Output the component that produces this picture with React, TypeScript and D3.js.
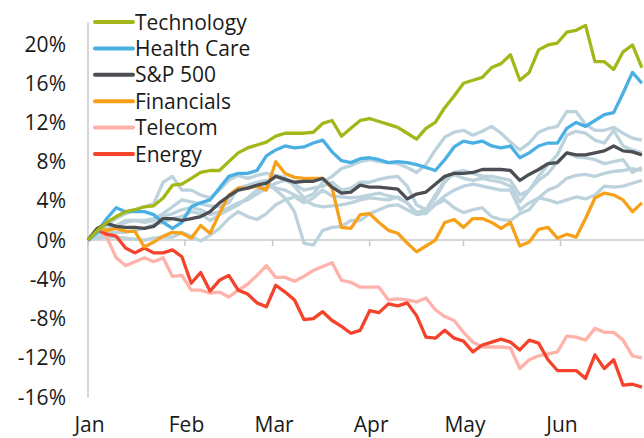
import React from "react";
import * as d3 from "d3";

const DAYS = [0,3,6,9,12,15,18,21,24,27,30,33,36,39,42,45,48,51,54,57,60,63,66,69,72,75,78,81,84,87,90,93,96,99,102,105,108,111,114,117,120,123,126,129,132,135,138,141,144,147,150,153,156,159,162,165,168,171,174,177];

const technology = [0,1.0,1.8,2.4,2.9,3.1,3.4,3.5,4.3,5.6, 5.7,6.3,6.9,7.1,7.1,8.0,8.9,9.4,9.7,10.0, 10.6,10.9,10.9,10.9,11.0,11.9,12.2,10.6,11.4,12.2, 12.4,12.1,11.8,11.5,10.9,10.3,11.4,12.0,13.5,14.7, 16.0,16.3,16.6,17.6,18.0,18.9,16.3,17.1,19.4,19.9, 20.1,21.2,21.4,21.9,18.2,18.2,17.4,19.2,19.9,17.6];
const healthCare = [0,0.8,2.2,3.3,2.9,2.9,2.9,2.6,1.8,1.2, 1.8,3.4,3.8,4.1,5.3,6.5,6.8,6.8,7.1,8.6, 9.2,9.6,9.4,9.5,9.9,10.2,9.0,8.1,7.9,8.3, 8.4,8.2,7.9,8.0,7.9,7.7,7.4,7.1,8.2,9.5, 10.1,9.9,10.1,9.6,9.4,9.6,8.4,8.9,9.6,9.9, 9.9,11.4,12.0,11.6,12.2,12.8,13.0,15.0,17.1,16.0];
const sp500 = [0,1.2,1.7,1.4,1.3,1.3,1.2,1.4,2.2,2.2, 2.0,2.2,2.4,2.9,3.8,4.5,5.1,5.3,5.6,5.8, 6.5,6.2,5.9,6.0,6.0,6.3,5.4,4.8,4.9,5.6, 5.4,5.4,5.3,5.2,4.2,4.7,4.9,5.7,6.5,6.8, 6.8,6.9,7.2,7.2,7.2,7.1,6.1,6.7,7.2,7.8, 7.9,8.9,8.7,8.7,8.9,9.1,9.6,9.1,9.0,8.7];
const financials = [0,1.2,1.0,1.2,0.9,0.9,-0.7,-0.2,0.4,0.8, 0.7,0.2,1.5,0.7,2.7,4.6,5.3,5.3,5.5,5.1, 8.0,6.8,6.4,6.3,6.3,6.3,5.3,1.3,1.2,2.6, 2.7,1.8,1.0,0.7,-0.3,-1.2,-0.6,0.0,1.8,2.1, 1.3,2.2,2.2,1.8,1.2,1.8,-0.6,-0.2,1.1,1.3, 0.2,0.6,0.3,2.2,4.3,4.8,4.6,4.1,2.9,3.8];
const telecom = [0,1.2,0.3,-1.8,-2.6,-2.2,-1.8,-2.2,-1.8,-3.7, -3.6,-5.1,-5.1,-5.4,-5.3,-5.8,-5.1,-4.5,-3.6,-2.6, -3.8,-3.8,-4.2,-3.7,-3.1,-2.7,-2.3,-4.1,-4.3,-4.8, -4.8,-4.8,-6.1,-6.0,-6.1,-6.3,-5.9,-7.1,-7.8,-8.2, -9.4,-10.4,-10.9,-10.9,-10.9,-11.0,-13.1,-12.2,-11.8,-11.6, -11.4,-9.8,-9.9,-10.2,-9.0,-9.4,-9.4,-10.2,-11.8,-12.0];
const energy = [0,1.0,0.6,0.4,-0.8,-1.3,-0.8,-1.3,-1.3,-1.0, -1.7,-4.4,-3.3,-5.2,-4.1,-3.6,-5.1,-5.5,-6.4,-6.8, -4.6,-5.3,-6.1,-8.1,-8.0,-7.3,-8.2,-8.8,-9.5,-9.2, -7.2,-7.4,-6.5,-6.7,-6.4,-7.7,-9.9,-10.0,-9.2,-10.0, -10.3,-11.4,-10.7,-10.4,-10.1,-10.4,-11.2,-10.2,-10.5,-12.2, -13.3,-13.3,-13.3,-14.1,-11.7,-13.1,-12.2,-14.8,-14.7,-15.0];

const otherA = [0,0.8,1.6,2.2,2.7,3.1,3.4,3.7,5.9,6.5, 5.1,5.1,4.6,4.3,5.1,6.1,6.6,6.3,6.6,6.8, 6.6,6.4,5.5,4.3,4.7,5.9,6.5,7.3,7.6,8.0, 8.2,8.0,7.9,7.8,7.4,6.9,7.7,9.2,10.5,11.0, 11.2,10.7,11.1,11.6,10.9,10.0,9.2,9.9,11.0,11.4, 11.6,13.1,13.1,11.8,11.2,11.2,11.5,10.9,10.4,10.2];
const otherB = [0,0.4,1.0,1.4,1.8,2.0,2.0,2.2,2.7,3.4, 4.1,3.9,3.7,3.5,3.4,3.8,5.3,5.6,5.9,6.1, 5.1,4.3,2.9,-0.3,-0.5,1.0,1.3,1.4,2.0,2.0, 2.7,3.1,3.5,3.6,3.1,2.6,2.8,3.6,4.1,3.3, 2.8,3.1,3.3,2.4,2.1,2.0,2.7,3.1,4.3,4.1, 3.8,4.1,4.4,4.2,4.6,5.5,5.4,5.5,5.8,6.1];
const otherC = [0,0.2,0.3,0.3,0.2,0.1,0,0.2,0.3,0.3, 0.8,0.4,-0.1,0.5,1.2,2.2,2.9,2.4,2.1,2.7, 3.6,4.1,4.4,3.8,4.3,5.1,4.5,4.4,4.3,4.4, 4.6,4.8,4.5,4.3,3.8,2.8,3.1,4.6,6.1,6.7, 6.3,6.1,6.3,6.1,5.9,5.5,3.9,5.1,6.1,6.8, 8.0,8.9,8.5,8.4,8.2,7.8,8.0,8.2,6.9,7.4];
const otherD = [0,0.6,1.2,1.5,2.0,2.0,1.8,2.0,2.4,2.7, 3.1,3.3,3.1,2.6,2.9,3.3,3.8,4.1,4.7,5.3, 5.8,6.1,5.7,5.1,5.3,5.5,5.9,5.1,5.3,5.9, 5.9,6.2,6.4,6.5,5.5,3.6,3.1,4.3,5.9,6.9, 7.1,6.8,6.5,6.5,6.3,6.1,4.6,5.1,6.5,7.7, 8.7,10.7,11.1,10.9,10.2,9.9,11.2,9.6,9.2,8.9];
const otherE = [0,0.4,0.7,0.8,0.8,1.0,1.2,1.6,1.8,2.2, 2.4,2.9,2.7,2.0,2.6,3.1,3.6,4.3,5.1,5.5, 5.3,5.1,4.6,4.1,3.6,3.4,3.5,3.6,3.8,4.1, 4.3,4.2,4.1,4.4,3.8,2.7,2.7,3.7,4.5,5.1, 5.5,5.7,5.5,5.3,5.1,5.1,3.1,3.8,4.3,5.1, 5.5,6.3,6.6,6.7,6.5,6.8,7.0,7.1,7.3,7.1];

const Y_TICKS = [20, 16, 12, 8, 4, 0, -4, -8, -12, -16];
const MONTH_LABELS = ["Jan", "Feb", "Mar", "Apr", "May", "Jun"];
const MONTH_STARTS = [0, 31, 59, 90, 120, 151];

const OTHERS = [otherA, otherB, otherC, otherD, otherE];
const MAIN = [
  { name: "Telecom", values: telecom, color: "#ffb2aa" },
  { name: "Energy", values: energy, color: "#f4432a" },
  { name: "Financials", values: financials, color: "#f7a01a" },
  { name: "Health Care", values: healthCare, color: "#4aafe2" },
  { name: "S&P 500", values: sp500, color: "#4b4e53" },
  { name: "Technology", values: technology, color: "#a3b818" },
];
const LEGEND = ["Technology", "Health Care", "S&P 500", "Financials", "Telecom", "Energy"];

export default function App() {
  const W = 644, H = 438;
  const x = d3.scaleLinear().domain([0, 178]).range([88, 645]);
  const y = d3.scaleLinear().domain([-16, 20]).range([397, 44]);
  const line = d3.line<number>().x((_, i) => x(DAYS[i])).y((v) => y(v));
  const font = "'Open Sans', 'Noto Sans', sans-serif";
  const axisColor = "#c9c9c9";
  const colorOf = (n: string) => MAIN.find((m) => m.name === n)!.color;

  return (
    <svg width={W} height={H} style={{ position: "absolute", left: 0, top: 0, background: "#fff" }} fontFamily={font}>
      <line x1={x(0)} x2={x(0)} y1={y(22.2)} y2={y(-16.1)} stroke={axisColor} strokeWidth={1.5} />
      <line x1={x(0)} x2={W} y1={y(0)} y2={y(0)} stroke={axisColor} strokeWidth={1.5} />
      {MONTH_STARTS.map((d, i) => (
        <g key={MONTH_LABELS[i]}>
          <line x1={x(d)} x2={x(d)} y1={y(0)} y2={y(0) + 6} stroke={axisColor} strokeWidth={1.5} />
          <text x={x(d) + 1.5} y={432} textAnchor="middle" fontSize={21} fill="#1a1a1a">{MONTH_LABELS[i]}</text>
        </g>
      ))}
      {Y_TICKS.map((t) => (
        <text key={t} x={66} y={y(t)} dy="0.36em" textAnchor="end" fontSize={21} fill="#1a1a1a">{t}%</text>
      ))}
      {OTHERS.map((vals, i) => (
        <path key={i} d={line(vals) || ""} fill="none" stroke="#bcd2dc" strokeWidth={3.3} strokeLinejoin="round" />
      ))}
      {MAIN.map((s) => (
        <path key={s.name} d={line(s.values) || ""} fill="none" stroke={s.color} strokeWidth={3.3} strokeLinejoin="round" />
      ))}
      {LEGEND.map((n, i) => {
        const ly = 22 + i * 26.4;
        return (
          <g key={n}>
            <line x1={95} x2={133} y1={ly} y2={ly} stroke={colorOf(n)} strokeWidth={4} strokeLinecap="round" />
            <text x={135} y={ly} dy="0.36em" fontSize={21} fill="#1a1a1a">{n}</text>
          </g>
        );
      })}
    </svg>
  );
}
